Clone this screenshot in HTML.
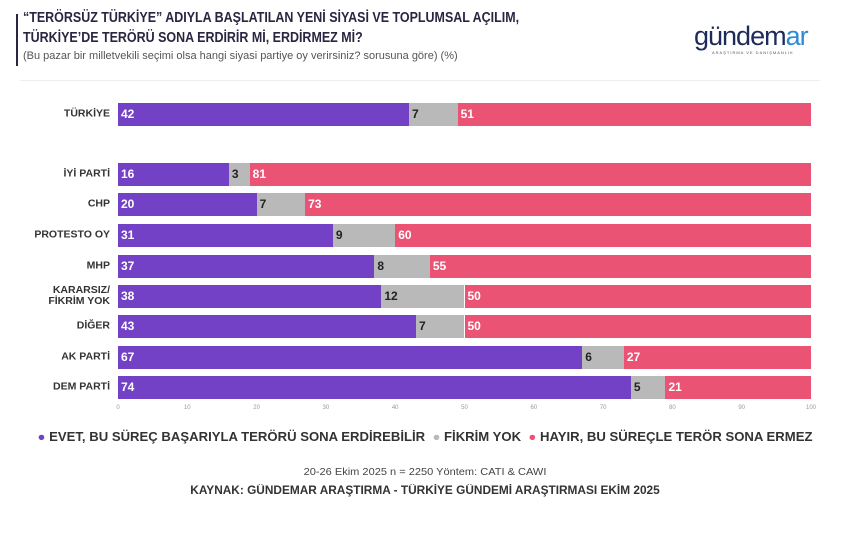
<!DOCTYPE html>
<html><head><meta charset="utf-8"><style>
body{margin:0;width:850px;height:533px;background:#fff;font-family:"Liberation Sans",sans-serif;position:relative;overflow:hidden}
.a{position:absolute}
.t{left:23px;top:8px;font-size:14.5px;font-weight:bold;color:#2a2540;line-height:20px;transform:scaleX(.86);transform-origin:left}
.s{left:23px;top:50px;font-size:11px;color:#555}
.lab{position:absolute;right:740px;font-size:10.5px;font-weight:bold;color:#333;text-align:right;line-height:11px;transform:translateY(-50%)}
.bar{position:absolute;height:23px;font-size:12px;font-weight:bold;line-height:23px;box-sizing:border-box;padding-left:3px}
.p{background:#7341c6;color:#fff}.g{background:#b9b9b9;color:#222}.r{background:#ea5373;color:#fff}
.tk{position:absolute;top:405px;font-size:6px;color:#999;transform:translateX(-50%)}
</style></head><body>
<div class="a" style="left:16px;top:14px;width:2px;height:52px;background:#2a2540"></div>
<div class="a t">“TERÖRSÜZ TÜRKİYE” ADIYLA BAŞLATILAN YENİ SİYASİ VE TOPLUMSAL AÇILIM,<br>TÜRKİYE’DE TERÖRÜ SONA ERDİRİR Mİ, ERDİRMEZ Mİ?</div>
<div class="a s">(Bu pazar bir milletvekili seçimi olsa hangi siyasi partiye oy verirsiniz? sorusuna göre) (%)</div>
<div class="a" style="left:694px;top:22px;font-size:27px;color:#1e2a5a;letter-spacing:-1px;line-height:28px">gündem<span style="color:#2d8ad6">ar</span></div>
<div class="a" style="left:712px;top:50px;font-size:4px;color:#555;letter-spacing:1px">ARAŞTIRMA VE DANIŞMANLIK</div>
<div class="a" style="left:20px;top:80px;width:800px;height:1px;background:#eee"></div>
<div id="c"></div>
<div class="a" style="left:0;width:850px;top:430px;text-align:center;font-size:12.5px;font-weight:bold;color:#333;transform:scaleX(1.05)"><span style="color:#7341c6">●</span> EVET, BU SÜREÇ BAŞARIYLA TERÖRÜ SONA ERDİREBİLİR &nbsp;<span style="color:#b9b9b9">●</span> FİKRİM YOK &nbsp;<span style="color:#ea5373">●</span> HAYIR, BU SÜREÇLE TERÖR SONA ERMEZ</div>
<div class="a" style="left:0;width:850px;top:466px;text-align:center;font-size:10.5px;color:#444;transform:scaleX(1.05)">20-26 Ekim 2025 n = 2250 Yöntem: CATI &amp; CAWI</div>
<div class="a" style="left:0;width:850px;top:485px;text-align:center;font-size:11.5px;font-weight:bold;color:#333;transform:scaleX(1.03)">KAYNAK: GÜNDEMAR ARAŞTIRMA - TÜRKİYE GÜNDEMİ ARAŞTIRMASI EKİM 2025</div>
<script>
var d=[["TÜRKİYE",114,42,7,51],["İYİ PARTİ",174,16,3,81],["CHP",204,20,7,73],["PROTESTO OY",235,31,9,60],["MHP",266,37,8,55],["KARARSIZ/<br>FİKRİM YOK",296,38,12,50],["DİĞER",326,43,7,50],["AK PARTİ",357,67,6,27],["DEM PARTİ",387,74,5,21]];
var x0=118,k=6.93,h="";
d.forEach(function(r){var y=r[1]-11.5;
h+='<div class="lab" style="top:'+r[1]+'px">'+r[0]+'</div>';
var x=x0;[["p",r[2]],["g",r[3]],["r",r[4]]].forEach(function(s){var w=s[1]*k;h+='<div class="bar '+s[0]+'" style="left:'+x+'px;top:'+y+'px;width:'+w+'px">'+s[1]+'</div>';x+=w;});});
for(var i=0;i<=100;i+=10)h+='<div class="tk" style="left:'+(x0+i*k)+'px">'+i+'</div>';
document.getElementById("c").innerHTML=h;
</script>
</body></html>
